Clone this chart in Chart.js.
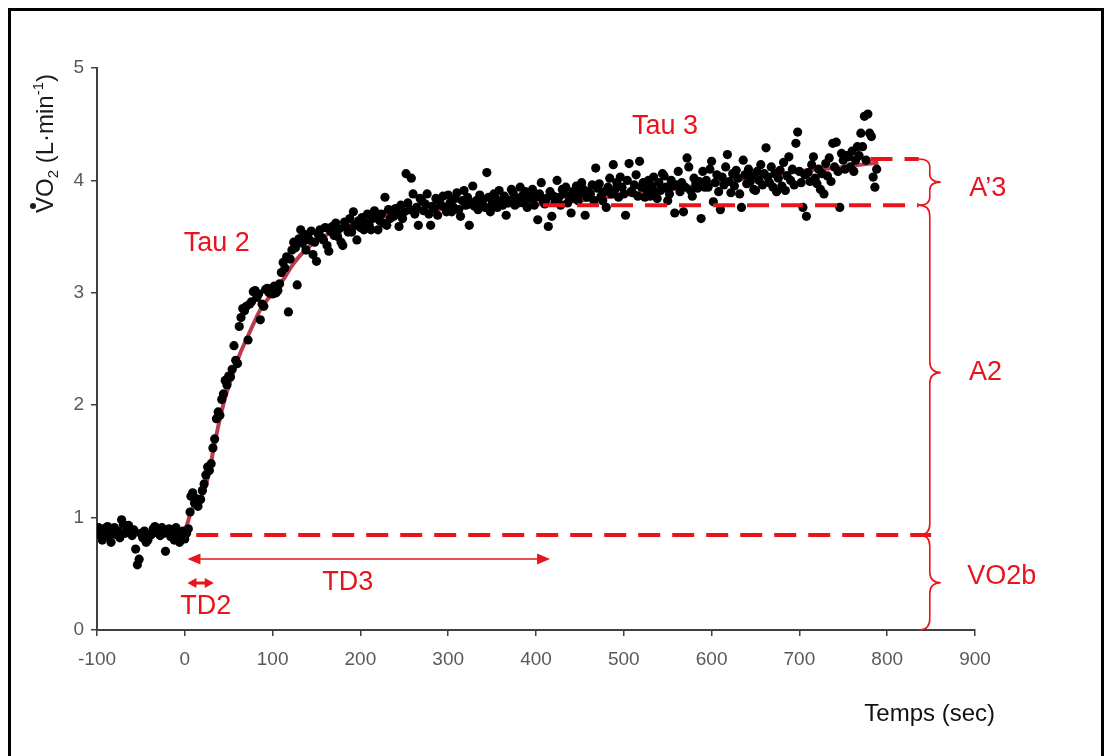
<!DOCTYPE html>
<html><head><meta charset="utf-8">
<script src="https://cdn.jsdelivr.net/npm/chart.js@4.4.1/dist/chart.umd.min.js"></script>
<style>html,body{margin:0;padding:0;background:#fff;overflow:hidden}</style>
</head><body>
<canvas id="c" width="1111" height="756"></canvas>
<script>
// ---- data ----
const baselinePts = [[-100,0.88],[-98,0.91],[-96,0.84],[-94,0.80],[-92,0.90],[-90,0.86],[-88,0.92],[-86,0.83],[-84,0.78],[-82,0.87],[-80,0.91],[-78,0.85],[-76,0.88],[-74,0.82],[-72,0.98],[-70,0.94],[-68,0.86],[-66,0.90],[-64,0.93],[-62,0.87],[-60,0.84],[-58,0.89],[-56,0.72],[-54,0.58],[-52,0.63],[-50,0.86],[-48,0.82],[-46,0.88],[-44,0.78],[-42,0.80],[-40,0.84],[-38,0.85],[-36,0.90],[-34,0.92],[-32,0.87],[-30,0.89],[-28,0.84],[-26,0.91],[-24,0.86],[-22,0.70],[-20,0.88],[-18,0.90],[-16,0.83],[-14,0.89],[-12,0.80],[-10,0.91],[-8,0.87],[-6,0.78],[-4,0.83],[-2,0.88],[0,0.81],[2,0.86],[4,0.90]];
const phase2Pts = [[6,1.05],[7,1.19],[9,1.22],[11,1.13],[13,1.17],[15,1.10],[18,1.16],[20,1.24],[22,1.30],[24,1.38],[26,1.45],[28,1.42],[30,1.48],[32,1.62],[34,1.70],[36,1.88],[38,1.94],[40,1.91],[42,2.05],[44,2.10],[46,2.22],[48,2.18],[50,2.26],[52,2.25],[54,2.32],[56,2.53],[58,2.40],[60,2.37],[62,2.70],[64,2.78],[66,2.86],[68,2.84],[70,2.88],[72,2.58],[74,2.90],[76,2.92],[78,3.01],[80,3.02],[82,2.96],[84,2.99],[86,2.76],[88,2.90],[90,2.88],[92,3.03],[94,3.04],[96,3.00],[98,3.01],[100,2.99],[102,3.06],[104,3.00],[106,3.02],[108,3.08],[110,3.18],[112,3.27],[114,3.22],[116,3.32],[118,2.83],[120,3.30],[122,3.38],[124,3.45],[126,3.40],[128,3.07],[130,3.48],[132,3.56],[134,3.44],[136,3.52],[138,3.38],[140,3.50],[142,3.47],[144,3.55],[146,3.34],[148,3.45],[150,3.28],[152,3.52],[154,3.56],[156,3.49],[158,3.47],[160,3.58],[162,3.42],[164,3.37],[166,3.55],[168,3.59],[170,3.51],[172,3.62],[174,3.50],[176,3.57],[178,3.45],[180,3.42],[182,3.63],[184,3.58],[186,3.54],[188,3.66],[190,3.54],[192,3.72],[194,3.60],[196,3.47],[198,3.64],[200,3.58],[202,3.67],[204,3.56],[206,3.62],[208,3.70],[210,3.60],[212,3.56],[214,3.66],[216,3.73],[218,3.68],[220,3.56],[222,3.64],[224,3.70],[226,3.62],[228,3.85],[230,3.60],[232,3.74],[234,3.66],[236,3.72],[238,3.68],[240,3.75],[242,3.70],[244,3.59],[246,3.78],[248,3.66],[250,3.72],[252,4.06],[254,3.80],[256,3.74],[258,4.02],[260,3.88],[262,3.70],[264,3.76],[266,3.60],[268,3.84],[270,3.82],[272,3.73],[274,3.79],[276,3.88],[278,3.70],[280,3.60],[282,3.77],[284,3.75],[286,3.84],[288,3.69],[290,3.82],[292,3.78],[294,3.86],[296,3.76],[298,3.72],[300,3.87],[302,3.80],[304,3.72],[306,3.76],[308,3.84],[310,3.89],[312,3.74],[314,3.68],[316,3.82],[318,3.91],[320,3.78],[322,3.85],[324,3.60],[326,3.80],[328,3.95],[330,3.77],[332,3.82],[334,3.74],[336,3.87],[338,3.80],[340,3.83],[342,3.76],[344,4.07],[346,3.85],[348,3.72],[350,3.79],[352,3.88],[354,3.84],[356,3.76],[358,3.91],[360,3.82],[362,3.78],[364,3.86],[366,3.69],[368,3.80],[370,3.82],[372,3.92],[374,3.89],[376,3.78],[378,3.84],[380,3.80]];
const phase3Pts = [[382,3.94],[384,3.86],[386,3.80],[388,3.90],[390,3.76],[392,3.84],[394,3.87],[396,3.92],[398,3.78],[400,3.85],[402,3.65],[404,3.88],[406,3.98],[408,3.82],[410,3.79],[412,3.84],[414,3.59],[416,3.90],[418,3.68],[420,3.86],[422,3.81],[424,4.00],[426,3.85],[428,3.78],[430,3.92],[432,3.88],[434,3.94],[436,3.80],[438,3.86],[440,3.71],[442,3.90],[444,3.84],[446,3.95],[448,3.82],[450,3.88],[452,3.98],[454,3.92],[456,3.69],[458,3.85],[460,3.90],[462,3.88],[464,3.96],[466,3.82],[468,4.11],[470,3.93],[472,3.97],[474,3.86],[476,3.82],[478,3.90],[480,3.76],[482,3.94],[484,4.02],[486,3.88],[488,4.14],[490,3.92],[492,3.98],[494,3.85],[496,4.03],[498,3.94],[500,3.88],[502,3.69],[504,4.00],[506,4.15],[508,3.90],[510,3.89],[512,3.96],[514,4.05],[516,3.86],[518,4.17],[520,3.94],[522,3.98],[524,3.85],[526,3.92],[528,4.00],[530,3.86],[532,3.95],[534,4.03],[536,3.90],[538,3.84],[540,3.98],[542,3.91],[544,4.06],[546,4.04],[548,3.94],[550,3.82],[552,3.88],[554,4.00],[556,3.95],[558,3.71],[560,3.96],[562,4.08],[564,3.90],[566,3.98],[568,3.72],[570,3.94],[572,4.20],[574,4.12],[576,3.91],[578,3.86],[580,4.02],[582,3.97],[584,3.93],[586,3.99],[588,3.66],[590,4.08],[592,3.94],[594,4.00],[596,3.94],[598,4.10],[600,4.17],[602,3.81],[604,3.98],[606,4.05],[608,3.90],[610,3.74],[612,4.03],[614,3.96],[616,4.12],[618,4.23],[620,3.99],[622,3.89],[624,4.06],[626,3.95],[628,4.09],[630,4.02],[632,3.88],[634,3.76],[636,4.18],[638,4.05],[640,3.97],[642,4.10],[644,3.99],[646,4.04],[648,3.92],[650,3.91],[652,4.08],[654,4.00],[656,4.14],[658,3.96],[660,4.06],[662,4.29],[664,4.03],[666,3.98],[668,4.12],[670,3.94],[672,4.06],[674,3.90],[676,4.02],[678,4.09],[680,3.95],[682,4.16],[684,3.91],[686,4.04],[688,4.21],[690,4.00],[692,4.10],[694,3.96],[696,4.33],[698,4.43],[700,4.08],[702,3.98],[704,3.76],[706,4.05],[708,3.68],[710,4.07],[712,3.99],[714,4.14],[716,4.21],[718,4.02],[720,3.97],[722,4.10],[724,3.92],[726,4.06],[728,3.88],[730,4.15],[732,4.04],[734,4.20],[736,3.99],[738,4.33],[740,4.12],[742,4.34],[744,4.08],[746,3.76],[748,4.24],[750,4.18],[752,4.10],[754,4.22],[756,4.21],[758,4.12],[760,4.26],[762,4.08],[764,4.18],[766,4.30],[768,4.22],[770,4.42],[772,4.30],[774,4.57],[776,4.18],[778,4.59],[780,4.42],[782,4.39],[784,4.03],[786,3.94],[788,4.10]];
const fitCurve = [[-100,0.86],[-2,0.86],[3,0.95],[8,1.07],[14,1.14],[21,1.22],[27,1.38],[33,1.62],[40,1.88],[45,2.04],[50,2.17],[56,2.31],[63,2.46],[71,2.60],[78,2.72],[86,2.85],[95,2.95],[105,3.04],[114,3.14],[122,3.24],[130,3.32],[140,3.40],[150,3.46],[165,3.53],[180,3.58],[200,3.63],[220,3.67],[250,3.71],[280,3.74],[320,3.76],[370,3.78],[410,3.79],[450,3.82],[500,3.87],[550,3.92],[600,3.97],[650,4.03],[700,4.08],[750,4.12],[790,4.16]];
const levelVO2b = 0.845, levelA2 = 3.78, levelA3 = 4.19;
const baselineDash = [[13, levelVO2b],[850, levelVO2b]];
const a2Dash = [[408, levelA2],[836, levelA2]];
const a3Dash = [[781, levelA3],[836, levelA3]];
const td2Span = [3, 33], td3Span = [3, 416];
const xTickRange = [-100, 900, 100], yTickRange = [0, 5, 1];

const RED = '#e8141b';
const pt = a => a.map(p => ({x: p[0], y: p[1]}));

const annot = {
  id: 'annot',
  beforeDraw(chart) {
    const c = chart.ctx; c.save(); c.fillStyle = '#fff'; c.fillRect(0,0,chart.width,chart.height); c.restore();
  },
  afterDraw(chart) {
    const c = chart.ctx, xs = chart.scales.x, ys = chart.scales.y;
    const X = v => xs.getPixelForValue(v), Y = v => ys.getPixelForValue(v);
    c.save();
    // frame
    c.strokeStyle = '#000'; c.lineWidth = 3;
    c.strokeRect(9.5, 9.5, 1093, 820);
    // arrows
    function arrow(v, a, b, lw, hl, hw) {
      const y = Y(v), x1 = X(a), x2 = X(b);
      c.strokeStyle = RED; c.fillStyle = RED; c.lineWidth = lw;
      c.beginPath(); c.moveTo(x1 + hl - 1, y); c.lineTo(x2 - hl + 1, y); c.stroke();
      c.beginPath(); c.moveTo(x1, y); c.lineTo(x1 + hl, y - hw); c.lineTo(x1 + hl, y + hw); c.closePath(); c.fill();
      c.beginPath(); c.moveTo(x2, y); c.lineTo(x2 - hl, y - hw); c.lineTo(x2 - hl, y + hw); c.closePath(); c.fill();
    }
    arrow(0.632, td3Span[0], td3Span[1], 1.6, 13, 5.5);
    arrow(0.418, td2Span[0], td2Span[1], 3, 9, 5);
    // braces
    function brace(xv, v0, v1, vm, r) {
      const x = X(xv), top = Y(v1), bot = Y(v0), mid = Y(vm), w = 11;
      c.strokeStyle = RED; c.lineWidth = 1.6;
      c.beginPath();
      c.moveTo(x - w, top);
      c.quadraticCurveTo(x, top, x, top + r);
      c.lineTo(x, mid - r);
      c.quadraticCurveTo(x, mid, x + w, mid);
      c.quadraticCurveTo(x, mid, x, mid + r);
      c.lineTo(x, bot - r);
      c.quadraticCurveTo(x, bot, x - w, bot);
      c.stroke();
    }
    brace(848.5, levelA2, levelA3, 3.985, 8);
    brace(848.5, levelVO2b, levelA2, 2.29, 11);
    brace(848.5, 0, levelVO2b, 0.42, 11);
    // red labels
    c.fillStyle = RED; c.font = '27px "Liberation Sans", Arial, sans-serif';
    c.textAlign = 'center'; c.textBaseline = 'middle';
    const labels = [['Tau 2', 36.4, 3.44], ['Tau 3', 547, 4.475], ['TD2', 24, 0.205], ['TD3', 185.6, 0.418], ['A\u20193', 914.5, 3.93], ['A2', 912, 2.29], ['VO2b', 930.5, 0.48]];
    labels.forEach(l => c.fillText(l[0], X(l[1]), Y(l[2])));
    // x axis title
    c.fillStyle = '#111'; c.font = '24px "Liberation Sans", Arial, sans-serif';
    c.textAlign = 'right'; c.textBaseline = 'alphabetic';
    c.fillText('Temps (sec)', chart.chartArea.right + 20, 721);
    // y axis title (rotated)
    c.save();
    c.translate(53, 213); c.rotate(-Math.PI / 2);
    c.fillStyle = '#1a1a1a'; c.textAlign = 'left';
    let px = 0;
    const big = '24px "Liberation Sans", Arial, sans-serif', small = '15px "Liberation Sans", Arial, sans-serif';
    const parts = [['V', big, 0], ['O', big, 0], ['2', small, 5], [' (L\u00B7min', big, 0], ['-1', small, -10], [')', big, 0]];
    parts.forEach(p => { c.font = p[1]; c.fillText(p[0], px, p[2]); px += c.measureText(p[0]).width; });
    c.beginPath(); c.arc(7, -20, 3, 0, Math.PI * 2); c.fill();
    c.restore();
    c.restore();
  }
};

new Chart(document.getElementById('c'), {
  type: 'scatter',
  data: { datasets: [
    { data: pt(baselinePts.concat(phase2Pts, phase3Pts)), backgroundColor: '#000', borderColor: '#000', pointRadius: 4.6, pointBorderWidth: 0, order: 1 },
    { type: 'line', data: pt(fitCurve), borderColor: 'rgba(175,25,45,0.85)', borderWidth: 4, pointRadius: 0, tension: 0.3, fill: false, order: 2 },
    { type: 'line', data: pt(baselineDash), borderColor: RED, borderWidth: 4, borderDash: [22, 12], pointRadius: 0, order: 0 },
    { type: 'line', data: pt(a2Dash), borderColor: RED, borderWidth: 4, borderDash: [22, 12], pointRadius: 0, order: 0 },
    { type: 'line', data: pt(a3Dash), borderColor: RED, borderWidth: 4, borderDash: [22, 12], pointRadius: 0, order: 0 }
  ]},
  options: {
    responsive: false, animation: false, devicePixelRatio: 1,
    layout: { padding: { left: 0, top: 68, right: 136, bottom: 0 } },
    plugins: { legend: { display: false }, tooltip: { enabled: false } },
    scales: {
      x: { type: 'linear', min: xTickRange[0], max: xTickRange[1],
        ticks: { stepSize: xTickRange[2], color: '#595959', font: { family: '"Liberation Sans", Arial', size: 19 }, padding: 12, maxRotation: 0 },
        grid: { drawOnChartArea: false, drawTicks: true, tickLength: 6, color: '#404040', lineWidth: 1.5 },
        border: { display: true, color: '#404040', width: 2 },
        afterFit: s => { s.height = 126; } },
      y: { type: 'linear', min: yTickRange[0], max: yTickRange[1],
        ticks: { stepSize: yTickRange[2], color: '#595959', font: { family: '"Liberation Sans", Arial', size: 19 }, padding: 7 },
        grid: { drawOnChartArea: false, drawTicks: true, tickLength: 6, color: '#404040', lineWidth: 1.5 },
        border: { display: true, color: '#404040', width: 2 },
        afterFit: s => { s.width = 97; } }
    }
  },
  plugins: [annot]
});
</script>
</body></html>
